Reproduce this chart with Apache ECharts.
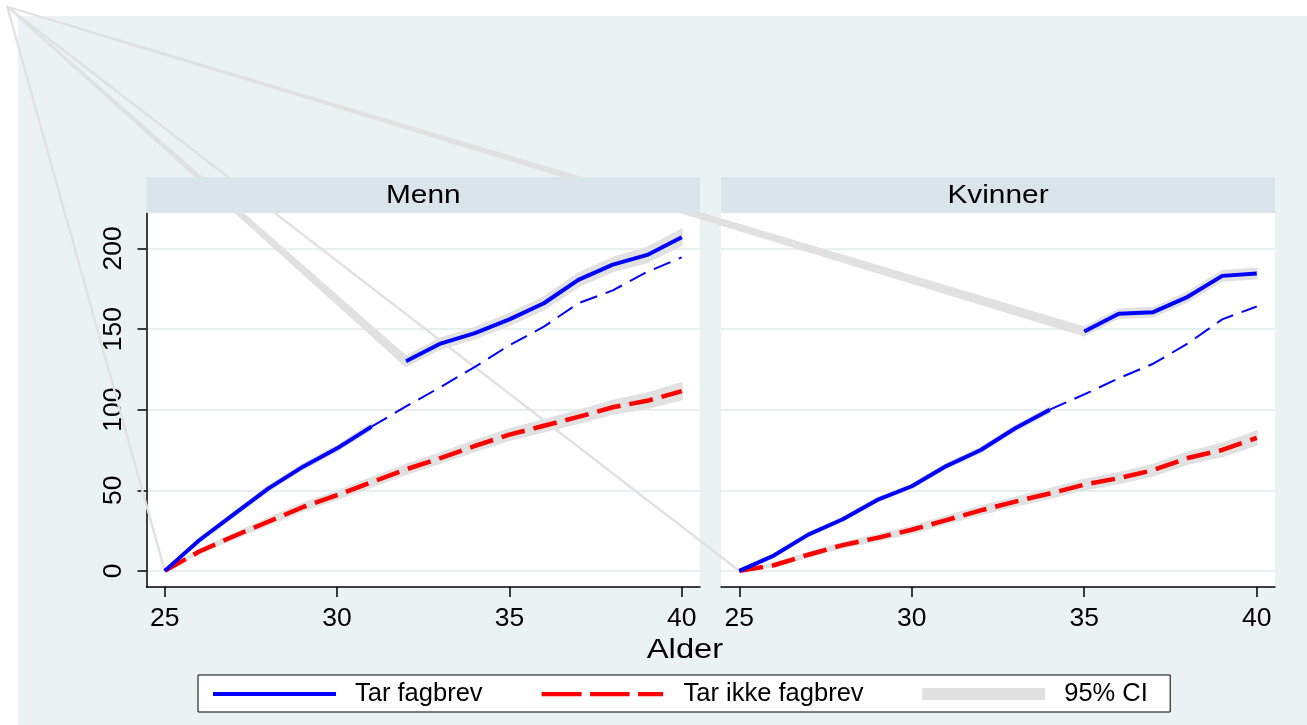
<!DOCTYPE html>
<html>
<head>
<meta charset="utf-8">
<script src="https://cdn.jsdelivr.net/npm/echarts@6/dist/echarts.min.js"></script>
<style>
html,body{margin:0;padding:0;background:#ffffff;}
#chart{width:1307px;height:725px;}
</style>
</head>
<body>
<div id="chart"></div>
<script>
// ---------- data ----------
const panelTitles = ['Menn', 'Kvinner'];
const xTitle = 'Alder';
const xTickValues = [25, 30, 35, 40];
const yTickValues = [0, 50, 100, 150, 200];
const legendNames = ['Tar fagbrev', 'Tar ikke fagbrev', '95% CI'];

const agesAll = [25, 26, 27, 28, 29, 30, 31, 32, 33, 34, 35, 36, 37, 38, 39, 40];

// Menn
const mennAgesA = [25, 26, 27, 28, 29, 30, 31];
const mennFagbrevA = [0, 19, 35, 51, 64.5, 76, 89.5];
const mennFagbrevA_ci = [0, 1, 1.2, 1.4, 1.5, 1.6, 1.8];
const mennAgesB = [32, 33, 34, 35, 36, 37, 38, 39, 40];
const mennFagbrevB = [130, 141, 147.5, 156, 166, 180.5, 190, 196, 207];
const mennFagbrevB_ci = [3, 3.2, 3.3, 3.5, 3.7, 4, 4.2, 4.5, 4.8];
const mennAgesDash = [31, 32, 33, 34, 35, 36, 37, 38, 39, 40];
const mennFagbrevDash = [89.5, 102, 114, 126.5, 140, 151.5, 166, 174, 185.5, 194.5];
const mennIkke = [0, 12, 21.5, 30.5, 39.5, 47, 55, 63, 70, 77.5, 84.5, 90, 95.5, 101.5, 105.5, 111.5];
const mennIkke_ci = [0, 1, 1.5, 2, 2.3, 2.5, 2.7, 2.9, 3, 3.2, 3.3, 3.5, 3.8, 4.1, 4.5, 5];

// Kvinner
const kvAgesA = [25, 26, 27, 28, 29, 30, 31, 32, 33, 34];
const kvFagbrevA = [0, 9.5, 22.5, 32, 44, 52.5, 65, 75, 88.5, 100];
const kvFagbrevA_ci = [0, 0.6, 0.8, 1, 1.1, 1.2, 1.3, 1.4, 1.5, 1.6];
const kvAgesB = [35, 36, 37, 38, 39, 40];
const kvFagbrevB = [148.5, 159.5, 160.5, 170, 183, 184.5];
const kvFagbrevB_ci = [2.5, 2.6, 2.7, 2.8, 3, 3.1];
const kvAgesDash = [34, 35, 36, 37, 38, 39, 40];
const kvFagbrevDash = [100, 109.5, 119.5, 128.5, 141, 156, 164];
const kvIkke = [0, 3.5, 10, 16, 20.5, 25.5, 31.5, 37.5, 43, 48, 53.5, 57.5, 62.5, 70, 75, 82.5];
const kvIkke_ci = [0, 0.8, 1.2, 1.5, 1.8, 2, 2.2, 2.4, 2.6, 2.8, 3, 3.2, 3.4, 3.6, 3.9, 4.2];

// stray polygon vertex of the CI areas (in each panel's data units)
const artifactOriginMenn = [20.43, 350];
const artifactOriginKv = [3.77, 350];

// ---------- styles / layout ----------
const FONT = 'Liberation Sans, Arial, sans-serif';
const BLUE = '#0000ff', RED = '#ff0000', CI = '#e1e1e1';
const BG = '#eaf2f3', STRIP = '#d9e5ea', GRIDLINE = '#e7eff1';
const LAY = {
  plotTop: 213, plotH: 374,
  left: [146.5, 721], width: [553.5, 554],
  stripTop: 177, stripH: 36,
  xMin: 24.47, xMax: 40.53, yMin: -10, yMax: 222
};

function pairs(xs, ys) { return xs.map((x, i) => [x, ys[i]]); }

function bandSeries(g, xs, ys, ci, origin) {
  return {
    type: 'custom', name: '95% CI', xAxisIndex: g, yAxisIndex: g,
    coordinateSystem: 'cartesian2d', clip: false, silent: true, z: 1,
    encode: { x: 0, y: 1 },
    data: [[xs[0], ys[0]]],
    renderItem: function (params, api) {
      const lo = xs.map((x, i) => api.coord([x, ys[i] - ci[i]]));
      const hi = xs.map((x, i) => api.coord([x, ys[i] + ci[i]])).reverse();
      const o = api.coord(origin);
      return {
        type: 'polygon',
        shape: { points: [o].concat(lo, hi) },
        style: { fill: CI, stroke: CI, lineWidth: 2, lineJoin: 'round' }
      };
    }
  };
}

function lineSeries(g, name, xs, ys, color, width, type) {
  return {
    type: 'line', name: name, xAxisIndex: g, yAxisIndex: g,
    data: pairs(xs, ys), symbol: 'none', silent: true, z: 3,
    lineStyle: { color: color, width: width, type: type, cap: 'butt', join: 'round' },
    itemStyle: { color: color }
  };
}

const series = [
  bandSeries(0, mennAgesA, mennFagbrevA, mennFagbrevA_ci, artifactOriginMenn),
  bandSeries(0, mennAgesB, mennFagbrevB, mennFagbrevB_ci, artifactOriginMenn),
  bandSeries(0, agesAll, mennIkke, mennIkke_ci, artifactOriginMenn),
  bandSeries(1, kvAgesA, kvFagbrevA, kvFagbrevA_ci, artifactOriginKv),
  bandSeries(1, kvAgesB, kvFagbrevB, kvFagbrevB_ci, artifactOriginKv),
  bandSeries(1, agesAll, kvIkke, kvIkke_ci, artifactOriginKv),
  lineSeries(0, 'Tar fagbrev (forlenget)', mennAgesDash, mennFagbrevDash, BLUE, 2, [18, 9]),
  lineSeries(1, 'Tar fagbrev (forlenget)', kvAgesDash, kvFagbrevDash, BLUE, 2, [18, 9]),
  lineSeries(0, 'Tar ikke fagbrev', agesAll, mennIkke, RED, 4.5, [24, 9]),
  lineSeries(1, 'Tar ikke fagbrev', agesAll, kvIkke, RED, 4.5, [24, 9]),
  lineSeries(0, 'Tar fagbrev', mennAgesA, mennFagbrevA, BLUE, 4, 'solid'),
  lineSeries(0, 'Tar fagbrev', mennAgesB, mennFagbrevB, BLUE, 4, 'solid'),
  lineSeries(1, 'Tar fagbrev', kvAgesA, kvFagbrevA, BLUE, 4, 'solid'),
  lineSeries(1, 'Tar fagbrev', kvAgesB, kvFagbrevB, BLUE, 4, 'solid')
];

function xAxis(g) {
  return {
    type: 'value', gridIndex: g, min: LAY.xMin, max: LAY.xMax,
    axisLine: { show: true, onZero: false, lineStyle: { color: '#000', width: 1.5 } },
    axisTick: { show: true, length: 10, customValues: xTickValues, lineStyle: { color: '#000', width: 1.5 } },
    axisLabel: { customValues: xTickValues, fontSize: 26.5, fontFamily: FONT, color: '#000', margin: 18 },
    splitLine: { show: false }
  };
}
function yAxis(g) {
  const first = g === 0;
  return {
    type: 'value', gridIndex: g, min: LAY.yMin, max: LAY.yMax,
    axisLine: { show: first, onZero: false, lineStyle: { color: '#000', width: 1.5 } },
    axisTick: { show: first, length: 9, customValues: yTickValues, lineStyle: { color: '#000', width: 1.5 } },
    axisLabel: { show: first, customValues: yTickValues, rotate: 90, fontSize: 26.5, fontFamily: FONT, color: '#000', margin: 19 },
    splitLine: { show: true, lineStyle: { color: GRIDLINE, width: 1.8 } }
  };
}

const lineIcon = 'path://M0,0H0.1V0.1H0Z M0,4H123V8H0Z M122.9,11.9H123V12H122.9Z';
const dashIcon = 'path://M0,0H0.1V0.1H0Z M0,3.9H40V8.2H0Z M48.5,3.9H88V8.2H48.5Z M96.5,3.9H121.5V8.2H96.5Z M122.9,11.9H123V12H122.9Z';

const option = {
  animation: false,
  backgroundColor: '#ffffff',
  grid: [0, 1].map(g => ({
    left: LAY.left[g], top: LAY.plotTop, width: LAY.width[g], height: LAY.plotH,
    show: true, backgroundColor: '#ffffff', borderWidth: 0
  })),
  xAxis: [xAxis(0), xAxis(1)],
  yAxis: [yAxis(0), yAxis(1)],
  legend: {
    left: 198, top: 675,
    backgroundColor: '#ffffff', borderColor: '#000', borderWidth: 1,
    padding: [6, 21, 5, 15],
    itemWidth: 123, itemHeight: 12, itemGap: 52.6,
    selectedMode: false,
    textStyle: { fontSize: 25.5, fontFamily: FONT, color: '#000', lineHeight: 26, padding: [0, 0, 0, 14] },
    data: [
      { name: legendNames[0], icon: lineIcon, itemStyle: { color: BLUE, borderWidth: 0 }, textStyle: { width: 134 } },
      { name: legendNames[1], icon: dashIcon, itemStyle: { color: RED, borderWidth: 0 }, textStyle: { width: 186 } },
      { name: legendNames[2], icon: 'rect', itemStyle: { color: CI, borderWidth: 0 }, textStyle: { width: 85 } }
    ]
  },
  graphic: [
    { type: 'rect', z: -100, silent: true, shape: { x: 18, y: 16, width: 1307 - 18, height: 725 - 16 }, style: { fill: BG } },
    { type: 'rect', z: 100, silent: true, shape: { x: LAY.left[0], y: LAY.stripTop, width: LAY.width[0], height: LAY.stripH }, style: { fill: STRIP } },
    { type: 'rect', z: 100, silent: true, shape: { x: LAY.left[1], y: LAY.stripTop, width: LAY.width[1], height: LAY.stripH }, style: { fill: STRIP } },
    { type: 'text', z: 101, silent: true, x: LAY.left[0] + LAY.width[0] / 2, y: LAY.stripTop + LAY.stripH / 2 + 0.5, scaleX: 1.17,
      style: { text: panelTitles[0], fontSize: 25.5, fontFamily: FONT, fill: '#000', align: 'center', verticalAlign: 'middle' } },
    { type: 'text', z: 101, silent: true, x: LAY.left[1] + LAY.width[1] / 2, y: LAY.stripTop + LAY.stripH / 2 + 0.5, scaleX: 1.17,
      style: { text: panelTitles[1], fontSize: 25.5, fontFamily: FONT, fill: '#000', align: 'center', verticalAlign: 'middle' } },
    { type: 'text', z: 101, silent: true, x: 685, y: 650.5, scaleX: 1.17,
      style: { text: xTitle, fontSize: 28, fontFamily: FONT, fill: '#000', align: 'center', verticalAlign: 'middle' } }
  ],
  series: series
};

const chart = echarts.init(document.getElementById('chart'), null, { renderer: 'canvas' });
chart.setOption(option);
</script>
</body>
</html>
